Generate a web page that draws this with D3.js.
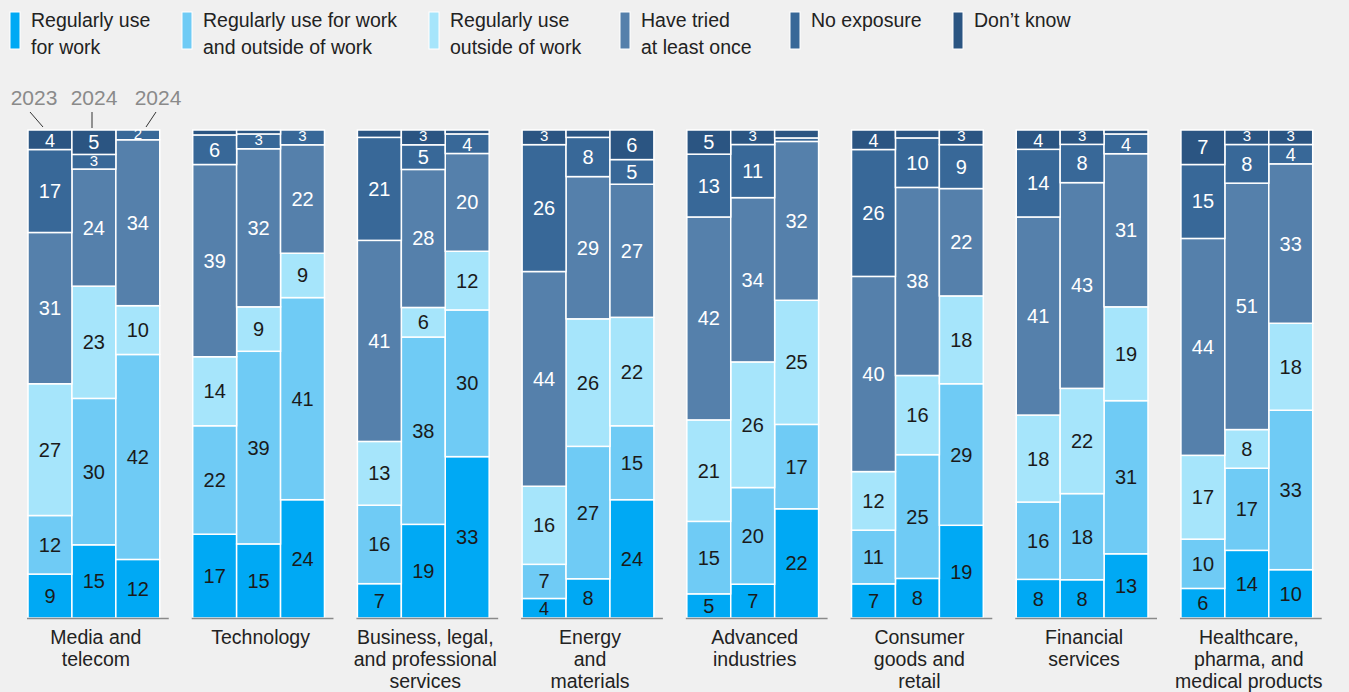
<!DOCTYPE html>
<html>
<head>
<meta charset="utf-8">
<script src="https://cdn.jsdelivr.net/npm/d3@7"></script>
<style>
  body { margin: 0; background: #f0f0f0; }
  svg { display: block; font-family: "Liberation Sans", Arial, sans-serif; }
</style>
</head>
<body>
<div id="container"></div>
<script>
// 枠の大きさ
var width = 1349;
var height = 692;

// データ
var categories = [
  "Media and\ntelecom", "Technology", "Business, legal,\nand professional\nservices",
  "Energy\nand\nmaterials", "Advanced\nindustries", "Consumer\ngoods and\nretail",
  "Financial\nservices", "Healthcare,\npharma, and\nmedical products"
];
var years = ["2023", "2024", "2024"];
var seriesNames = [
  "Regularly use\nfor work", "Regularly use for work\nand outside of work",
  "Regularly use\noutside of work", "Have tried\nat least once", "No exposure", "Don’t know"
];
var seriesKeys = ["work", "both", "outside", "tried", "none", "dk"];

// 各カテゴリ×年 (下から順)
var work    = [[9, 15, 12], [17, 15, 24], [7, 19, 33], [4, 8, 24], [5, 7, 22], [7, 8, 19], [8, 8, 13], [6, 14, 10]];
var both    = [[12, 30, 42], [22, 39, 41], [16, 38, 30], [7, 27, 15], [15, 20, 17], [11, 25, 29], [16, 18, 31], [10, 17, 33]];
var outside = [[27, 23, 10], [14, 9, 9], [13, 6, 12], [16, 26, 22], [21, 26, 25], [12, 16, 18], [18, 22, 19], [17, 8, 18]];
var tried   = [[31, 24, 34], [39, 32, 22], [41, 28, 20], [44, 29, 27], [42, 34, 32], [40, 38, 22], [41, 43, 31], [44, 51, 33]];
var none    = [[17, 3, 2], [6, 3, 3], [21, 5, 4], [26, 8, 5], [13, 11, 0.7], [26, 10, 9], [14, 8, 4], [15, 8, 4]];
var dk      = [[4, 5, 0], [1, 0.8, 0], [1.5, 3, 0.8], [3, 1.5, 6], [5, 3, 1.6], [4, 1.6, 3], [4, 3, 0.8], [7, 3, 3]];

var colors = ["#00a9f4", "#6fcbf5", "#a6e5fb", "#5580ab", "#386898", "#2b5582"];
var textColors = ["#1a1a1a", "#1a1a1a", "#1a1a1a", "#ffffff", "#ffffff", "#ffffff"];

// 行データを作る
var rows = [];
categories.forEach(function(c, i) {
  years.forEach(function(y, j) {
    rows.push({
      cat: i, bar: j,
      work: work[i][j], both: both[i][j], outside: outside[i][j],
      tried: tried[i][j], none: none[i][j], dk: dk[i][j]
    });
  });
});

var stack = d3.stack().keys(seriesKeys).offset(d3.stackOffsetExpand);
var stacked = stack(rows);

var svg = d3.select("#container").append("svg")
  .attr("width", width)
  .attr("height", height);

var x0 = d3.scaleBand().domain(d3.range(categories.length))
  .range([28, 1312.7]).paddingInner(0.2).paddingOuter(0);
var x1 = d3.scaleBand().domain(d3.range(years.length))
  .range([0, x0.bandwidth()]);
var y = d3.scaleLinear().domain([0, 1]).range([618, 130]);

// 凡例
var legendX = [10, 182, 429, 620, 790, 953];
var legend = svg.append("g").selectAll("g").data(seriesNames).enter().append("g")
  .attr("transform", function(d, i) { return "translate(" + legendX[i] + ",0)"; });
legend.append("rect")
  .attr("x", 0).attr("y", 12).attr("width", 10).attr("height", 37)
  .attr("fill", function(d, i) { return colors[i]; })
  .attr("stroke", "#fff").attr("stroke-width", 1);
legend.append("text")
  .attr("x", 21).attr("y", 27)
  .attr("font-size", 19.5).attr("fill", "#222")
  .selectAll("tspan").data(function(d) { return d.split("\n"); }).enter().append("tspan")
  .attr("x", 21).attr("dy", function(d, i) { return i ? 27 : 0; })
  .text(function(d) { return d; });

// 棒
var layer = svg.append("g").selectAll("g").data(stacked).enter().append("g")
  .attr("fill", function(d, i) { return colors[i]; });

layer.selectAll("rect").data(function(d) { return d; }).enter().append("rect")
  .attr("x", function(d) { return x0(d.data.cat) + x1(d.data.bar); })
  .attr("y", function(d) { return y(d[1]); })
  .attr("width", x1.bandwidth())
  .attr("height", function(d) { return y(d[0]) - y(d[1]); })
  .attr("stroke", "#fff").attr("stroke-width", 1.5);

// 値ラベル (小さい区間は文字も小さく)
function segH(d) { return y(d[0]) - y(d[1]); }
function labelSize(d) { var h = segH(d); return h < 18 ? 15 : (h < 24 ? 18 : 20); }
function labelShift(d) { var h = segH(d); return h < 18 ? 4 : 7; }

stacked.forEach(function(s, i) {
  svg.append("g").selectAll("text").data(s.filter(function(d) { return d.data[s.key] >= 2; }))
    .enter().append("text")
    .attr("x", function(d) { return x0(d.data.cat) + x1(d.data.bar) + x1.bandwidth() / 2; })
    .attr("y", function(d) { return (y(d[0]) + y(d[1])) / 2 + labelShift(d); })
    .attr("text-anchor", "middle")
    .attr("font-size", labelSize)
    .attr("fill", textColors[i])
    .text(function(d) { return d.data[s.key]; });
});

// ベースライン
svg.append("g").selectAll("line").data(categories).enter().append("line")
  .attr("x1", function(d, i) { return x0(i) - 1; })
  .attr("x2", function(d, i) { return x0(i) + x0.bandwidth() + 9; })
  .attr("y1", 618.5).attr("y2", 618.5)
  .attr("stroke", "#8a8a8a").attr("stroke-width", 1.5);

// カテゴリ名
svg.append("g").selectAll("text").data(categories).enter().append("text")
  .attr("text-anchor", "middle")
  .attr("font-size", 19.5).attr("fill", "#222")
  .attr("transform", function(d, i) { return "translate(" + (x0(i) + x0.bandwidth() / 2 + 2) + ",644)"; })
  .selectAll("tspan").data(function(d) { return d.split("\n"); }).enter().append("tspan")
  .attr("x", 0).attr("dy", function(d, i) { return i ? 22 : 0; })
  .text(function(d) { return d; });

// 年ラベル (最初のグループのみ)
var yearX = [34, 94, 158];
svg.append("g").selectAll("text").data(years).enter().append("text")
  .attr("x", function(d, i) { return yearX[i]; })
  .attr("y", 105)
  .attr("text-anchor", "middle")
  .attr("font-size", 21).attr("fill", "#8a8a8a")
  .text(function(d) { return d; });

var leaders = [[30, 112, 43, 127], [92, 112, 92, 128], [156, 112, 146, 127]];
svg.append("g").selectAll("line").data(leaders).enter().append("line")
  .attr("x1", function(d) { return d[0]; }).attr("y1", function(d) { return d[1]; })
  .attr("x2", function(d) { return d[2]; }).attr("y2", function(d) { return d[3]; })
  .attr("stroke", "#333").attr("stroke-width", 1);
</script>
</body>
</html>
